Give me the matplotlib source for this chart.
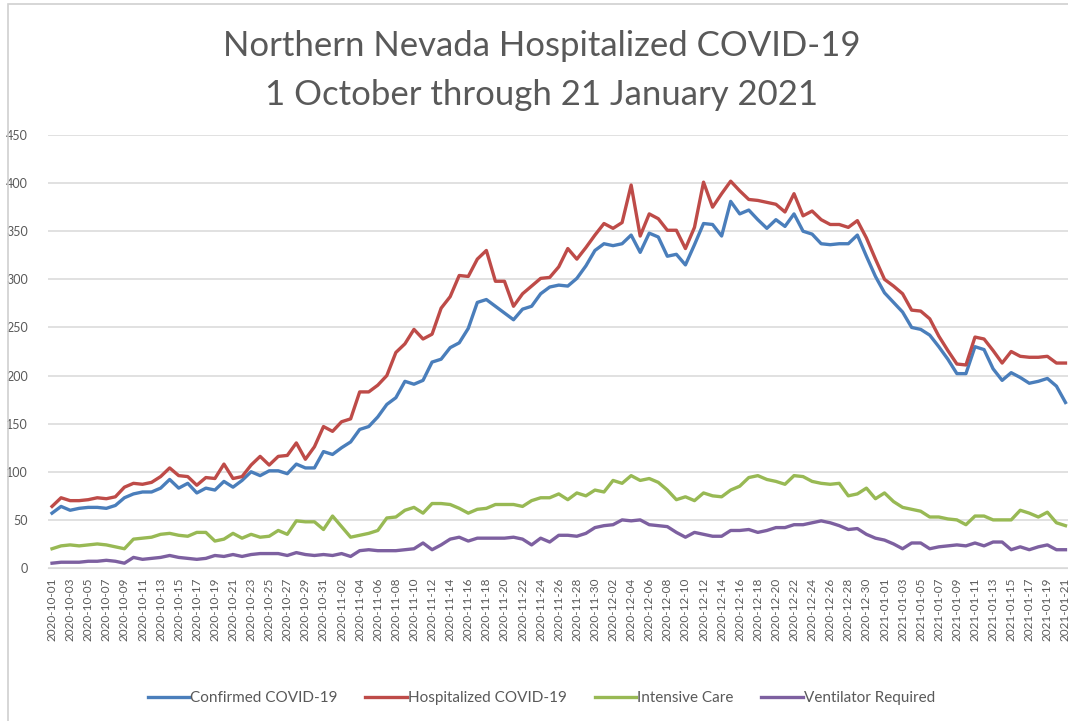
import datetime
import matplotlib
matplotlib.use('Agg')
from matplotlib import pyplot as plt
from matplotlib.patches import Rectangle

# daily values, 1 Oct 2020 .. 21 Jan 2021
confirmed = [57, 64, 60, 62, 63, 63, 62, 65, 73, 77, 79, 79, 83, 92, 83, 88, 78, 83, 81, 90,
             84, 91, 100, 96, 101, 101, 98, 108, 104, 104, 121, 118, 125, 131, 144, 147, 157, 170, 177, 194,
             191, 195, 214, 217, 229, 234, 249, 276, 279, 272, 265, 258, 269, 272, 285, 292, 294, 293, 301, 314,
             330, 337, 335, 337, 346, 328, 348, 344, 324, 326, 315, 336, 358, 357, 345, 381, 368, 372, 362, 353,
             362, 355, 368, 350, 347, 337, 336, 337, 337, 346, 324, 303, 286, 276, 266, 250, 248, 242, 230, 217,
             202, 202, 230, 227, 207, 195, 203, 198, 192, 194, 197, 189, 172]
hospitalized = [64, 73, 70, 70, 71, 73, 72, 74, 84, 88, 87, 89, 95, 104, 96, 95, 86, 94, 93, 108,
                93, 95, 107, 116, 107, 116, 117, 130, 113, 126, 147, 142, 152, 155, 183, 183, 190, 200, 224, 233,
                248, 238, 243, 270, 282, 304, 303, 321, 330, 298, 298, 272, 285, 293, 301, 302, 313, 332, 321, 333,
                346, 358, 353, 359, 398, 345, 368, 363, 351, 351, 332, 354, 401, 375, 389, 402, 392, 383, 382, 380,
                378, 370, 389, 366, 371, 362, 357, 357, 354, 361, 343, 321, 300, 293, 285, 268, 267, 259, 241, 226,
                212, 211, 240, 238, 226, 213, 225, 220, 219, 219, 220, 213, 213]
intensive = [20, 23, 24, 23, 24, 25, 24, 22, 20, 30, 31, 32, 35, 36, 34, 33, 37, 37, 28, 30,
             36, 31, 35, 32, 33, 39, 35, 49, 48, 48, 40, 54, 43, 32, 34, 36, 39, 52, 53, 60,
             63, 57, 67, 67, 66, 62, 57, 61, 62, 66, 66, 66, 64, 70, 73, 73, 77, 71, 78, 75,
             81, 79, 91, 88, 96, 91, 93, 89, 81, 71, 74, 70, 78, 75, 74, 81, 85, 94, 96, 92,
             90, 87, 96, 95, 90, 88, 87, 88, 75, 77, 83, 72, 78, 69, 63, 61, 59, 53, 53, 51,
             50, 45, 54, 54, 50, 50, 50, 60, 57, 53, 58, 47, 44]
ventilator = [5, 6, 6, 6, 7, 7, 8, 7, 5, 11, 9, 10, 11, 13, 11, 10, 9, 10, 13, 12,
              14, 12, 14, 15, 15, 15, 13, 16, 14, 13, 14, 13, 15, 12, 18, 19, 18, 18, 18, 19,
              20, 26, 19, 24, 30, 32, 28, 31, 31, 31, 31, 32, 30, 24, 31, 27, 34, 34, 33, 36,
              42, 44, 45, 50, 49, 50, 45, 44, 43, 37, 32, 37, 35, 33, 33, 39, 39, 40, 37, 39,
              42, 42, 45, 45, 47, 49, 47, 44, 40, 41, 35, 31, 29, 25, 20, 26, 26, 20, 22, 23,
              24, 23, 26, 23, 27, 27, 19, 22, 19, 22, 24, 19, 19]

start = datetime.date(2020, 10, 1)
dates = [(start + datetime.timedelta(days=i)).isoformat() for i in range(len(confirmed))]

series = [
    ('Confirmed COVID-19', confirmed, '#4A7EBB'),
    ('Hospitalized COVID-19', hospitalized, '#BE4B48'),
    ('Intensive Care', intensive, '#98B954'),
    ('Ventilator Required', ventilator, '#7D60A0'),
]

plt.rcParams['font.family'] = ['Lato', 'DejaVu Sans']
W, H = 1068, 721
fig = plt.figure(figsize=(W / 100, H / 100), dpi=100)

left, right = 47.5, 1070
y0, y450 = 568, 135
ax = fig.add_axes([left / W, (H - y0) / H, (right - left) / W, (y0 - y450) / H])

x = list(range(len(dates)))
for name, vals, color in series:
    ax.plot(x, vals, color=color, lw=2.4, label=name, solid_joinstyle='round')

ax.set_xlim(-0.5, len(dates) - 0.5)
ax.set_ylim(0, 450)
ax.set_yticks(range(0, 451, 50))
ax.set_xticks(x[::2])
ax.set_xticklabels(dates[::2], rotation=90)
ax.grid(axis='y', color='#D9D9D9', lw=1.1)
ax.set_axisbelow(True)
for s in ['top', 'right', 'left']:
    ax.spines[s].set_visible(False)
ax.spines['bottom'].set_color('#D9D9D9')
ax.tick_params(axis='y', length=0, pad=14, labelsize=9, labelcolor='#595959')
ax.tick_params(axis='x', length=0, pad=7, labelsize=8.5, labelcolor='#595959')

fig.text(0.5075, (H - 46) / H, 'Northern Nevada Hospitalized COVID-19',
         ha='center', va='center', fontsize=25, color='#595959')
fig.text(0.5075, (H - 95) / H, '1 October through 21 January 2021',
         ha='center', va='center', fontsize=25, color='#595959')

fig.legend(loc='center', bbox_to_anchor=(0.507, (H - 698) / H), ncol=4, frameon=False,
           fontsize=11, handlelength=2.7, handletextpad=0.1, columnspacing=1.8,
           labelcolor='#595959')

fig.add_artist(Rectangle((8 / W, -0.01), 1.1, (H - 4) / H + 0.01, transform=fig.transFigure,
                         fill=False, edgecolor='#D0D0D0', lw=1.2))

fig.savefig('out.png', dpi=100)
